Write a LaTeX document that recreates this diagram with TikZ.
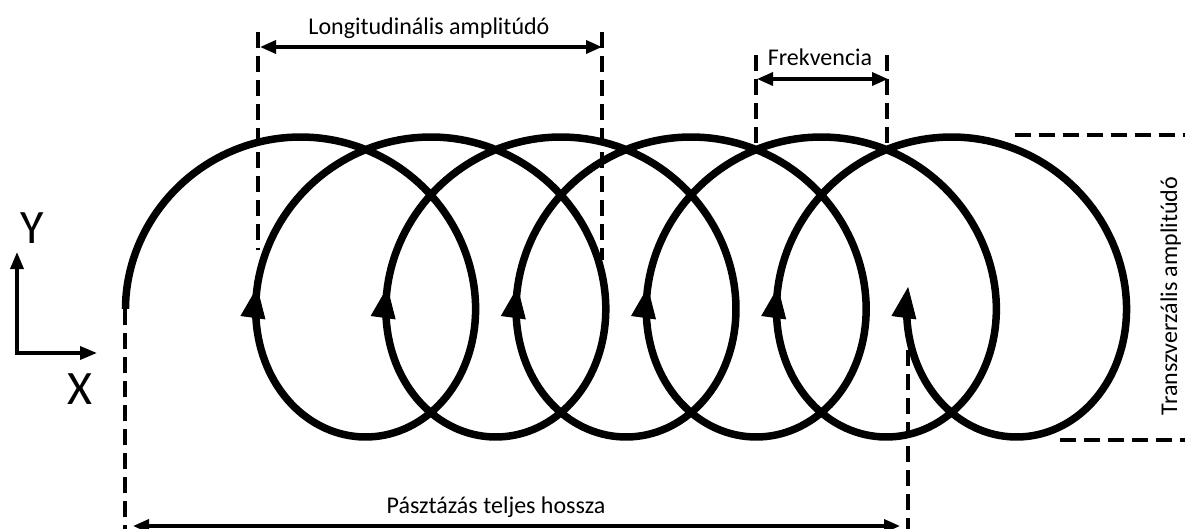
\documentclass[tikz,border=0pt]{standalone}
\usepackage{fontspec}
\setmainfont{Carlito}
\usetikzlibrary{arrows.meta}
\begin{document}
\begin{tikzpicture}[x=1pt,y=-1pt,
  curve/.style={line width=7.5pt, line join=round},
  dimline/.style={line width=3.5pt, dash pattern=on 16pt off 8pt},
  dimarrow/.style={line width=3.5pt, {Triangle[length=16pt,width=13pt]}-{Triangle[length=16pt,width=13pt]}},
  axisarrow/.style={line width=3.5pt, line join=miter, {Triangle[length=17pt,width=13pt]}-{Triangle[length=17pt,width=13pt]}},
  looparrow/.style={line width=1pt, -{Triangle[length=31pt,width=25pt]}},
  lbl/.style={font=\fontsize{24}{28}\selectfont, inner sep=0pt, anchor=base},
  axlbl/.style={font=\fontsize{48}{56}\selectfont, inner sep=0pt}
]
\useasboundingbox (0,0) rectangle (1185,529);

% spiral (trochoid) path
\draw[curve] plot[domain=-0.146:37.58, samples=900, variable=\t]
  ({268+20.72*\t-141*cos(\t r)}, {287-150*sin(\t r)});
\foreach \k in {1,...,6}{
  \coordinate (tip\k) at (127+130.19*\k, 287);
  \coordinate (base\k) at (127+130.19*\k-4.11, 316.7);
  \draw[looparrow] (base\k) -- (tip\k);
}

% axes
\coordinate (O) at (17,353);
\coordinate (Ytip) at (17,252);
\coordinate (Xtip) at (97,353);
\draw[axisarrow] (Ytip) -- (O) -- (Xtip);
\node[axlbl] (ylab) at (32,228) {Y};
\node[axlbl] (xlab) at (80,389) {X};

% longitudinal amplitude
\coordinate (la1) at (258,32); \coordinate (la2) at (258,250);
\coordinate (lb1) at (602,32); \coordinate (lb2) at (602,260);
\draw[dimline] (la1) -- (la2);
\draw[dimline] (lb1) -- (lb2);
\coordinate (lal) at (260,47); \coordinate (lar) at (602,47);
\draw[dimarrow] (lal) -- (lar);
\node[lbl] (longlab) at (429,35) {Longitudinális amplitúdó};

% frequency
\coordinate (fa1) at (756,55); \coordinate (fa2) at (756,150);
\coordinate (fb1) at (887,55); \coordinate (fb2) at (887,150);
\draw[dimline] (fa1) -- (fa2);
\draw[dimline] (fb1) -- (fb2);
\coordinate (fl) at (757,79); \coordinate (fr) at (888,79);
\draw[dimarrow] (fl) -- (fr);
\node[lbl] (freqlab) at (820,66) {Frekvencia};

% total scan length
\coordinate (ta1) at (125,309); \coordinate (ta2) at (125,535);
\coordinate (tb1) at (908,350); \coordinate (tb2) at (908,535);
\draw[dimline] (ta1) -- (ta2);
\draw[dimline] (tb1) -- (tb2);
\coordinate (tl) at (133,526); \coordinate (tr) at (900,526);
\draw[dimarrow] (tl) -- (tr);
\node[lbl] (totlab) at (496,513) {Pásztázás teljes hossza};

% transversal amplitude
\coordinate (ra1) at (1015,135); \coordinate (ra2) at (1190,135);
\coordinate (rb1) at (1060,440); \coordinate (rb2) at (1190,440);
\draw[dimline] (ra1) -- (ra2);
\draw[dimline] (rb1) -- (rb2);
\node[lbl, rotate=90] (translab) at (1177,296) {Transzverzális amplitúdó};
\end{tikzpicture}
\end{document}
